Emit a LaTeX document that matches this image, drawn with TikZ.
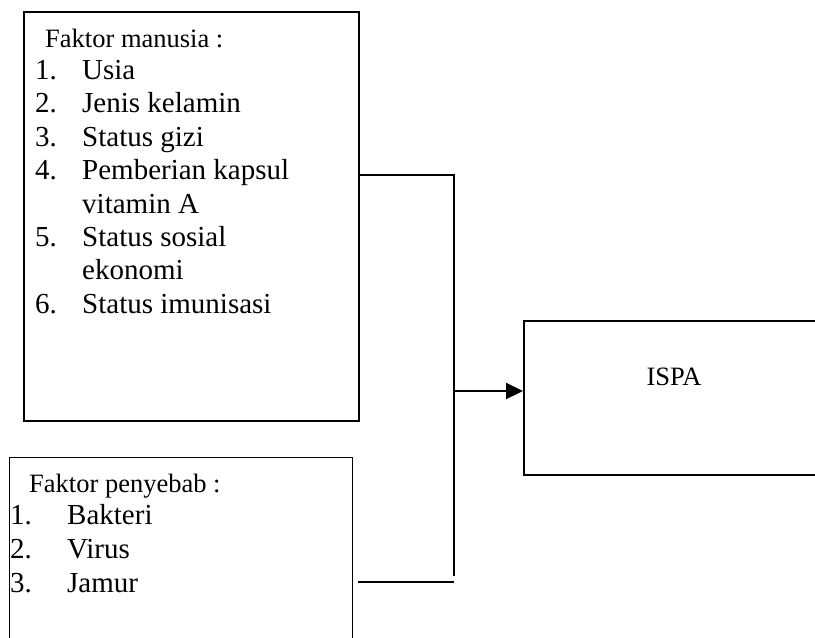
\documentclass[tikz,border=0pt]{standalone}
\usepackage{fontspec}
\setmainfont{Liberation Serif}
\usetikzlibrary{arrows.meta}
\tikzset{
  box/.style={draw=black, line width=1.9pt, rectangle, inner sep=0pt, anchor=north west},
  thinbox/.style={box, line width=1.3pt},
  head/.style={anchor=base west, inner sep=0pt, font=\fontsize{26.5}{30}\selectfont},
  item/.style={anchor=base west, inner sep=0pt, font=\fontsize{29}{33}\selectfont},
  conn/.style={line width=1.9pt, black},
  arr/.style={conn, line width=2.2pt, -{Triangle[length=17pt,width=16pt]}}
}
\begin{document}
\begin{tikzpicture}[x=1pt,y=-1pt]
\useasboundingbox (0,0) rectangle (815,638);
\clip (0,0) rectangle (815,638);
% boxes
\node[box, minimum width=335pt, minimum height=409pt] (m) at (23,11) {};
\node[thinbox, minimum width=343pt, minimum height=200pt] (p) at (9,457) {};
\node[box, minimum width=320pt, minimum height=154pt] (ispa) at (523,320) {};
% texts box 1
\node[head] (mh) at (45,47) {Faktor manusia :};
\node[item] (n1) at (35,79.5) {1.};   \node[item] (t1) at (82,79.5) {Usia};
\node[item] (n2) at (35,112.8) {2.};  \node[item] (t2) at (82,112.8) {Jenis kelamin};
\node[item] (n3) at (35,146.2) {3.};  \node[item] (t3) at (82,146.2) {Status gizi};
\node[item] (n4) at (35,179.6) {4.};  \node[item] (t4) at (82,179.6) {Pemberian kapsul};
\node[item] (t4b) at (82,213) {vitamin A};
\node[item] (n5) at (35,246.4) {5.};  \node[item] (t5) at (82,246.4) {Status sosial};
\node[item] (t5b) at (82,279.8) {ekonomi};
\node[item] (n6) at (35,313.2) {6.};  \node[item] (t6) at (82,313.2) {Status imunisasi};
% texts box 2
\node[head] (ph) at (29,492) {Faktor penyebab :};
\node[item] (q1) at (10,524.5) {1.}; \node[item] (s1) at (67,524.5) {Bakteri};
\node[item] (q2) at (10,558.5) {2.}; \node[item] (s2) at (67,558.5) {Virus};
\node[item] (q3) at (10,592.5) {3.}; \node[item] (s3) at (67,592.5) {Jamur};
% ISPA label
\node[head, anchor=base] (il) at (674,385) {ISPA};
% connectors
\coordinate (jt) at (454,175);
\coordinate (jb) at (454,576);
\coordinate (ja) at (454,391);
\coordinate (lb) at (454,582);
\draw[conn] (m.east |- jt) -- (jt) -- (jb);
\draw[conn] ([xshift=5pt]p.east |- lb) -- (lb);
\draw[arr] (ja) -- (ispa.west |- ja);
\end{tikzpicture}
\end{document}
